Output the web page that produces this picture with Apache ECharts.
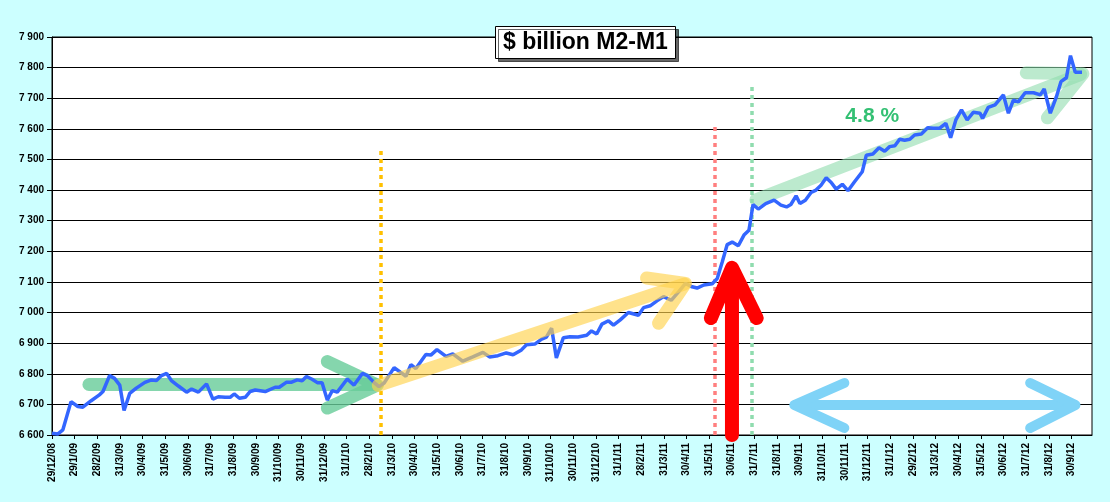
<!DOCTYPE html>
<html>
<head>
    <meta charset="utf-8">
    <title>M2-M1</title>
    <script src="https://cdn.jsdelivr.net/npm/echarts@6/dist/echarts.min.js"></script>
    <style>body{margin:0;background:#ccffff;}</style>
</head>
<body>
    <div id="main" style="width:1110px;height:502px;"></div>
    <script type="text/javascript">
        // month-end tick labels, one per month
        var monthLabels = ['29/12/08','29/1/09','28/2/09','31/3/09','30/4/09','31/5/09','30/6/09','31/7/09','31/8/09','30/9/09',
            '31/10/09','30/11/09','31/12/09','31/1/10','28/2/10','31/3/10','30/4/10','31/5/10','30/6/10','31/7/10',
            '31/8/10','30/9/10','31/10/10','30/11/10','31/12/10','31/1/11','28/2/11','31/3/11','30/4/11','31/5/11',
            '30/6/11','31/7/11','31/8/11','30/9/11','31/10/11','30/11/11','31/12/11','31/1/12','29/2/12','31/3/12',
            '30/4/12','31/5/12','30/6/12','31/7/12','31/8/12','30/9/12'];

        // [months since 29/12/08, $ billion]
        var m2m1 = [[0,6606],[0.25,6603],[0.48,6617],[0.84,6709],[1.14,6693],[1.36,6691],[1.73,6712],[2.09,6731],[2.25,6742],[2.54,6794],
            [2.76,6785],[2.99,6763],[3.18,6680],[3.43,6736],[3.72,6753],[4.10,6772],[4.39,6780],[4.61,6778],[4.83,6794],[5.06,6801],
            [5.27,6778],[5.58,6760],[5.94,6740],[6.16,6750],[6.46,6740],[6.82,6767],[7.10,6717],[7.34,6725],[7.64,6723],[7.86,6723],
            [8.04,6734],[8.27,6720],[8.53,6723],[8.74,6742],[8.97,6747],[9.41,6742],[9.85,6756],[10.03,6756],[10.34,6772],[10.55,6772],
            [10.82,6780],[11.04,6777],[11.23,6791],[11.48,6782],[11.71,6771],[11.92,6771],[12.15,6714],[12.37,6745],[12.59,6740],[13.03,6783],
            [13.33,6763],[13.70,6801],[13.92,6794],[14.22,6771],[14.43,6758],[14.66,6770],[15.10,6820],[15.62,6792],[15.84,6830],[16.06,6817],
            [16.50,6863],[16.72,6861],[16.99,6879],[17.39,6857],[17.69,6865],[18.13,6841],[18.57,6855],[19.02,6870],[19.31,6855],[19.68,6859],
            [20.05,6868],[20.35,6862],[20.72,6878],[20.94,6895],[21.31,6897],[21.61,6913],[21.82,6920],[22.05,6949],[22.26,6852],[22.57,6918],
            [22.86,6921],[23.22,6920],[23.60,6926],[23.81,6940],[24.04,6930],[24.27,6962],[24.56,6973],[24.78,6959],[25.08,6976],[25.44,7000],
            [25.88,6991],[26.11,7016],[26.40,7022],[26.70,7038],[26.99,7052],[27.33,7040],[27.66,7068],[27.96,7095],[28.25,7084],[28.47,7080],
            [28.77,7090],[29.14,7094],[29.36,7111],[29.58,7165],[29.80,7222],[30.02,7230],[30.29,7218],[30.54,7253],[30.76,7269],[30.94,7353],
            [31.17,7338],[31.50,7356],[31.87,7367],[32.17,7351],[32.42,7345],[32.61,7353],[32.84,7381],[33.01,7356],[33.25,7367],[33.50,7392],
            [33.72,7400],[33.94,7416],[34.17,7440],[34.39,7425],[34.61,7403],[34.88,7419],[35.13,7398],[35.42,7427],[35.76,7460],[35.94,7514],
            [36.23,7518],[36.50,7538],[36.75,7527],[36.97,7542],[37.20,7545],[37.41,7566],[37.63,7563],[37.86,7566],[38.07,7580],[38.37,7583],
            [38.66,7604],[38.89,7602],[39.18,7602],[39.45,7618],[39.66,7571],[39.89,7629],[40.14,7662],[40.39,7629],[40.66,7654],[40.96,7651],
            [41.07,7634],[41.32,7670],[41.62,7678],[41.99,7711],[42.21,7651],[42.43,7694],[42.65,7688],[42.95,7718],[43.32,7718],[43.62,7711],
            [43.79,7730],[44.06,7651],[44.33,7705],[44.53,7754],[44.77,7767],[44.95,7839],[45.16,7785],[45.46,7785]];

        // annotation arrows (data coordinates)
        var greenArrow = [[[1.63,6765],[14.3,6765]], [[12.15,6840],[14.36,6763],[12.15,6688]]];
        var yellowArrow = [[[14.4,6762],[27.9,7093]], [[26.24,7113],[27.96,7095],[26.77,6965]]];
        var trendArrow = [[[31.07,7368],[45.4,7778]], [[43.0,7783],[45.5,7780],[43.93,7636]]];
        var blueArrow = [[[32.9,6698],[45.0,6698]], [[34.97,6770],[32.76,6698],[34.97,6623]], [[43.17,6770],[45.17,6698],[43.17,6623]]];
        var redArrow = [[[30.01,6600],[30.01,7135]], [[29.08,6982],[30.01,7146],[31.1,6982]]];
        var vLines = [
            {x: 14.49, top: 7530, color: '#ffc000'},
            {x: 29.26, top: 7610, color: '#ff7f7f'},
            {x: 30.9, top: 7745, color: '#8fdcae'}
        ];

        var myChart = echarts.init(document.getElementById('main'));

        function arrowSeries(paths, color, width, opacity, z) {
            return {
                type: 'lines',
                coordinateSystem: 'cartesian2d',
                polyline: true,
                silent: true,
                z: z,
                data: paths.map(function (p) { return {coords: p}; }),
                lineStyle: {color: color, width: width, opacity: opacity, cap: 'round', join: 'round'}
            };
        }

        var dotted = vLines.map(function (v) {
            return {
                type: 'lines', coordinateSystem: 'cartesian2d', silent: true, z: 4,
                data: [{coords: [[v.x, 6600], [v.x, v.top]]}],
                lineStyle: {color: v.color, width: 3.5, type: [4, 4], opacity: 1}
            };
        });

        var option = {
            backgroundColor: '#ccffff',
            animation: false,
            title: {
                text: '$ billion M2-M1',
                left: 495, top: 26,
                backgroundColor: '#fff',
                borderColor: '#000', borderWidth: 1,
                padding: [5, 8],
                shadowColor: 'rgba(0,0,0,0.6)', shadowOffsetX: 3, shadowOffsetY: 3, shadowBlur: 0,
                textStyle: {fontFamily: 'Liberation Sans', fontWeight: 'bold', fontSize: 23, color: '#000'}
            },
            grid: {left: 52, right: 18, top: 37, bottom: 67, show: true, backgroundColor: '#fff', borderColor: '#000', borderWidth: 1},
            xAxis: {
                type: 'value', min: 0, max: 45.9, interval: 1,
                axisLine: {show: true, lineStyle: {color: '#000'}},
                axisTick: {show: true, inside: false, length: 4, lineStyle: {color: '#000'}},
                splitLine: {show: false},
                axisLabel: {
                    rotate: 90, color: '#000', fontWeight: 'bold', fontSize: 10, fontFamily: 'Liberation Sans',
                    showMaxLabel: false,
                    formatter: function (v) { return Number.isInteger(v) && monthLabels[v] ? monthLabels[v] : ''; }
                }
            },
            yAxis: {
                type: 'value', min: 6600, max: 7900, interval: 100,
                axisLine: {show: true, lineStyle: {color: '#000'}},
                axisTick: {show: true, lineStyle: {color: '#000'}},
                splitLine: {lineStyle: {color: '#000', width: 1}},
                axisLabel: {
                    color: '#000', fontWeight: 'bold', fontSize: 10, fontFamily: 'Liberation Sans',
                    formatter: function (v) { return String(v).replace(/(\d)(\d{3})$/, '$1 $2'); }
                }
            },
            series: [
                {
                    type: 'line', data: m2m1, showSymbol: false, z: 5,
                    lineStyle: {color: '#3366ff', width: 3.5}
                },
                arrowSeries(greenArrow, '#66cc99', 13, 0.8, 3),
                arrowSeries(yellowArrow, '#ffd34d', 13, 0.65, 6),
                arrowSeries(trendArrow, '#8fdcae', 13, 0.6, 3),
                arrowSeries(blueArrow, '#7fd3f7', 10, 1, 6),
                arrowSeries(redArrow, '#ff0000', 14, 1, 7),
                {
                    type: 'scatter', data: [[36.2, 7640]], symbolSize: 0, silent: true, z: 8,
                    label: {show: true, formatter: '4.8 %', color: '#00b050', fontSize: 21, fontWeight: 'bold', fontFamily: 'Liberation Sans'}
                }
            ].concat(dotted)
        };
        myChart.setOption(option);
    </script>
</body>
</html>
